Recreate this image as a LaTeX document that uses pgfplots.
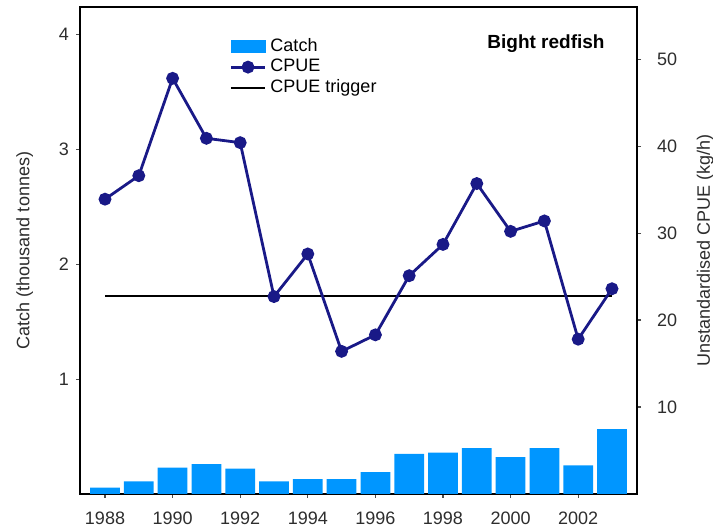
\documentclass[border=0pt]{standalone}
\usepackage{pgfplots}
\pgfplotsset{compat=1.18}
\usepackage{fontspec}
\setmainfont{Liberation Sans}
\definecolor{catchblue}{RGB}{0,150,255}
\definecolor{cpuenavy}{RGB}{25,25,135}
\definecolor{txt}{RGB}{45,45,45}

\begin{document}
\begin{tikzpicture}
\pgfplotsset{
  every axis/.append style={
    scale only axis, width=278.5pt, height=243.5pt,
    xmin=1987.26, xmax=2003.74,
    font=\fontsize{9}{11}\selectfont,
    /pgf/number format/assume math mode=true,
    tick style={black!70, line width=0.6pt},
    tick align=outside,
    major tick length=2pt,
    axis line style={line width=1pt},
    every tick label/.append style={text=txt},
    label style={text=txt},
  },
}
% catch bars, left axis
\begin{axis}[name=main,
  ymin=0, ymax=4.24,
  ytick={1,2,3,4},
  ytick pos=left, xtick pos=bottom,
  xtick={1988,1990,...,2002},
  x tick label style={/pgf/number format/1000 sep=, yshift=-3.5pt},
  ylabel={Catch (thousand tonnes)},
  ylabel shift=6pt,
  ybar, bar width=0.88,
]
\addplot[fill=catchblue, draw=none] coordinates {
  (1988,0.055) (1989,0.11) (1990,0.23) (1991,0.26) (1992,0.22)
  (1993,0.11) (1994,0.13) (1995,0.13) (1996,0.19) (1997,0.35)
  (1998,0.36) (1999,0.40) (2000,0.32) (2001,0.40) (2002,0.25)
  (2003,0.565)
};
\end{axis}
% CPUE, right axis
\begin{axis}[
  ymin=0, ymax=56,
  axis y line*=right, axis x line=none,
  ytick={10,20,30,40,50},
  yticklabel style={xshift=4.5pt},
  ylabel={Unstandardised CPUE (kg/h)},
  ylabel shift=3pt,
  legend cell align=left,
  legend style={draw=none, fill=none, at={(0.257,0.953)}, anchor=north west,
    font=\fontsize{9}{11}\selectfont, row sep=-1.5pt},
]
\addlegendimage{area legend, fill=catchblue, draw=catchblue}
\addlegendentry{Catch}
\addlegendimage{cpuenavy, line width=1.4pt, mark=*, mark size=2.5pt}
\addlegendentry{CPUE}
\addlegendimage{black, line width=1pt}
\addlegendentry{CPUE trigger}
% trigger
\addplot[black, line width=1pt, forget plot] coordinates {(1988,22.8) (2003,22.8)};
\addplot[cpuenavy, line width=1.4pt, mark=*, mark size=2.5pt, forget plot] coordinates {
  (1988,33.9) (1989,36.6) (1990,47.8) (1991,40.9) (1992,40.4)
  (1993,22.7) (1994,27.6) (1995,16.4) (1996,18.3) (1997,25.1)
  (1998,28.7) (1999,35.7) (2000,30.2) (2001,31.4) (2002,17.8)
  (2003,23.6)
};
\node[anchor=east, inner sep=0pt, font=\fontsize{9.5}{11}\selectfont\bfseries] at (rel axis cs:0.9425,0.925) {Bight redfish};
\end{axis}
\pgfresetboundingbox
\useasboundingbox ([shift={(-40pt,-17.5pt)}]main.south west) rectangle ([shift={(38pt,3.5pt)}]main.north east);
\end{tikzpicture}
\end{document}
